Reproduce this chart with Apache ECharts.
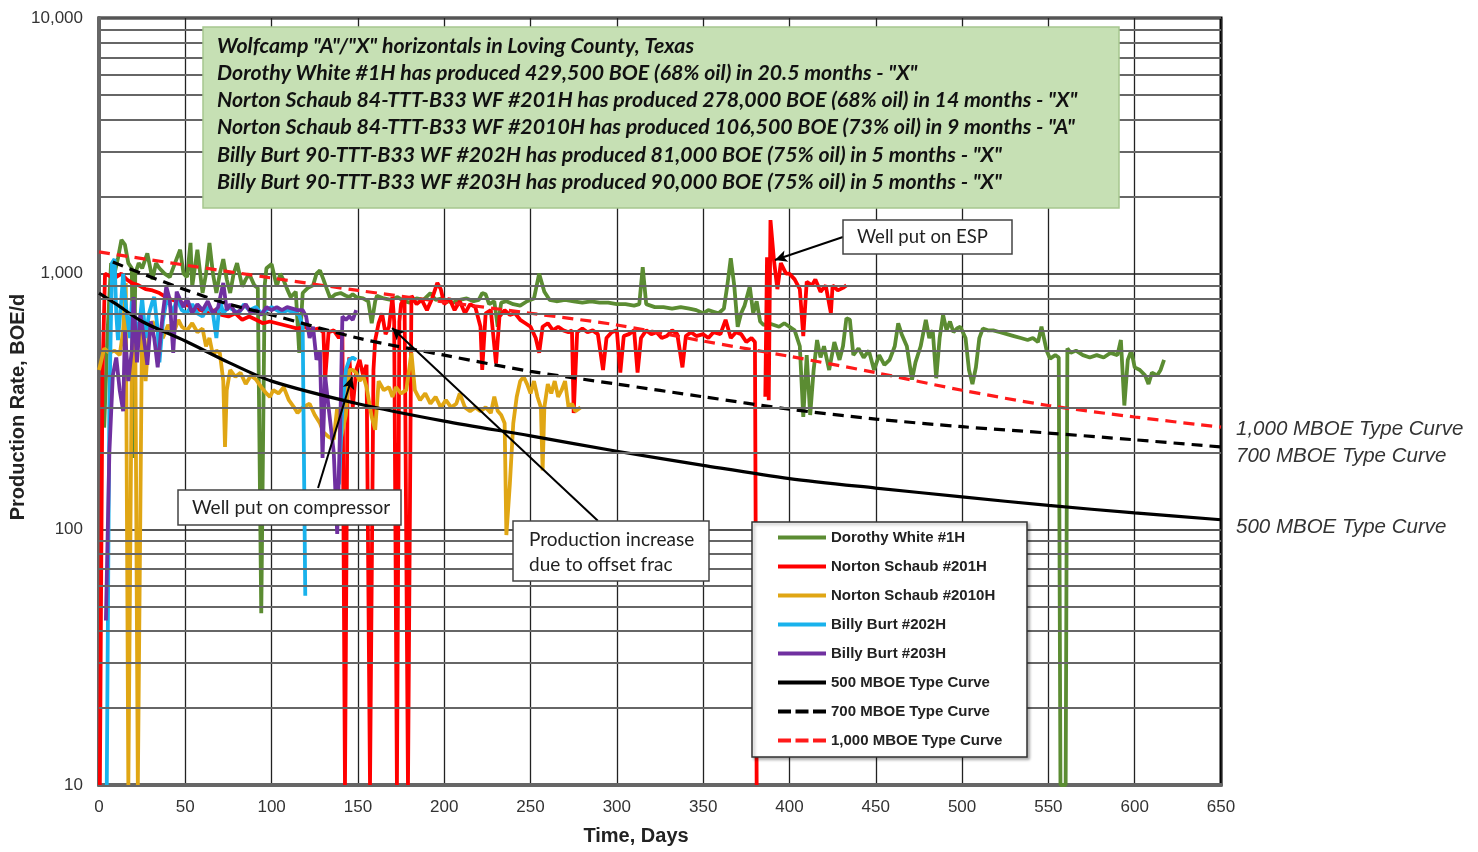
<!DOCTYPE html>
<html>
<head>
<meta charset="utf-8">
<script src="https://cdn.jsdelivr.net/npm/echarts@6/dist/echarts.min.js"></script>
<style>html,body{margin:0;padding:0;background:#fff}#c{width:1478px;height:852px}</style>
</head>
<body>
<div id="c"></div>
<script>
// ---------- DATA ----------
const xTicks = [0,50,100,150,200,250,300,350,400,450,500,550,600,650];
const yTicks = [10,100,1000,10000];
const minorGrid = [20,30,40,50,60,70,80,90,200,300,400,500,600,700,800,900,2000,3000,4000,5000,6000,7000,8000,9000];

const seriesNames = ["Dorothy White #1H","Norton Schaub #201H","Norton Schaub #2010H","Billy Burt #202H","Billy Burt #203H","500 MBOE Type Curve","700 MBOE Type Curve","1,000 MBOE Type Curve"];

const dorothy = [[3,250],[5,600],[7,1100],[9,1000],[11,1150],[13,1355],[15,1300],[17,1100],[19,1050],[20,190],[21,1000],[23,1100],[25,1050],[28,1200],[31,950],[33,1100],[35,1050],[38,1000],[41,970],[44,1100],[47,1240],[49,1000],[51,970],[53,1320],[54,890],[57,1240],[60,840],[62,1000],[64,1320],[66,1000],[68,840],[70,1000],[72,1140],[74,950],[76,840],[78,1000],[80,1100],[83,890],[85,950],[87,1000],[90,900],[92,880],[94,47],[96,900],[97,1050],[100,1090],[103,890],[105,1000],[107,940],[109,870],[111,810],[114,850],[116,490],[118,840],[121,880],[124,900],[126,1000],[128,1030],[130,950],[132,870],[134,800],[137,830],[140,840],[143,820],[145,810],[147,830],[149,810],[153,800],[156,780],[158,640],[160,780],[161,820],[165,800],[169,790],[173,810],[177,780],[180,770],[184,800],[188,790],[192,840],[195,790],[199,800],[202,780],[205,770],[209,790],[213,800],[217,780],[220,790],[222,840],[224,830],[226,760],[229,780],[231,620],[233,770],[236,780],[240,760],[244,750],[248,780],[252,800],[255,1000],[258,850],[261,790],[265,780],[270,790],[275,780],[280,770],[285,780],[290,770],[295,770],[300,760],[305,760],[310,750],[313,760],[315,1060],[317,760],[322,740],[327,740],[332,730],[337,740],[342,730],[346,720],[350,700],[353,720],[356,710],[359,700],[362,730],[364,900],[366,1150],[368,900],[370,620],[372,700],[374,750],[377,890],[379,700],[381,780],[383,650],[385,630],[388,640],[391,630],[394,620],[397,640],[400,620],[403,600],[406,520],[408,275],[410,480],[412,280],[414,420],[416,550],[418,470],[420,520],[423,420],[426,540],[429,460],[431,520],[433,670],[435,660],[437,480],[440,510],[443,470],[446,500],[449,420],[452,480],[455,440],[458,460],[461,520],[463,640],[465,580],[468,520],[471,385],[473,450],[476,520],[479,660],[481,560],[483,600],[485,390],[487,560],[489,690],[491,600],[493,650],[495,590],[497,610],[499,620],[502,560],[504,420],[506,370],[508,430],[510,560],[512,610],[515,600],[518,600],[522,590],[526,580],[530,570],[534,560],[538,550],[541,560],[544,540],[546,620],[549,500],[551,465],[554,480],[556,470],[557,10],[560,10],[561,510],[563,490],[566,500],[570,480],[574,470],[578,480],[582,470],[586,490],[590,480],[592,550],[594,305],[596,460],[598,500],[600,430],[603,420],[606,400],[608,370],[610,410],[613,400],[615,420],[617,460]];

const schaub201 = [[0.5,10],[2,400],[3.5,1000],[6,980],[9,960],[13,1000],[16,950],[19,920],[23,900],[27,870],[31,860],[35,840],[40,800],[45,780],[50,760],[55,730],[59,720],[63,700],[67,720],[71,690],[75,680],[79,700],[83,660],[87,680],[91,660],[95,640],[99,650],[103,640],[107,630],[111,620],[115,610],[119,620],[123,600],[127,610],[130,590],[131,385],[133,590],[136,600],[139,560],[141,590],[142.5,10],[144,380],[145,470],[147,300],[149,420],[151,460],[153,400],[155,440],[157,10],[159,420],[160,550],[162,640],[164,700],[166,580],[168,620],[170,810],[171,650],[172.6,10],[174,650],[175,760],[177,810],[179,10],[181,820],[184,760],[187,790],[190,720],[193,800],[196,920],[198,870],[200,760],[203,800],[206,720],[209,780],[212,700],[215,760],[218,740],[221,620],[222,420],[224,700],[227,720],[230,445],[232,680],[235,720],[238,690],[241,700],[244,660],[247,640],[250,620],[253,560],[255,490],[257,620],[260,640],[263,600],[266,620],[269,600],[272,590],[274,600],[275,285],[277,590],[280,610],[283,590],[286,600],[289,580],[292,420],[294,560],[297,590],[300,600],[302,410],[304,570],[307,580],[310,600],[312,410],[314,560],[317,600],[320,580],[323,590],[326,560],[329,570],[332,600],[335,580],[338,430],[340,570],[343,590],[346,570],[350,580],[353,560],[356,590],[360,580],[363,660],[366,560],[369,590],[372,580],[375,540],[378,560],[380,540],[381,10],[383,'-'],[386,330],[387,1160],[388,320],[389,1620],[391,1130],[393,870],[395,1100],[398,1000],[400,1000],[403,950],[406,870],[408,570],[410,930],[413,900],[415,950],[418,850],[421,900],[424,700],[425,900],[428,860],[431,880],[433,900]];

const schaub2010 = [[0,420],[3,510],[6,490],[9,500],[12,480],[14,600],[15.5,920],[17,10],[17.5,10],[19,450],[21,600],[22.5,10],[23.5,10],[25,700],[27,380],[29,600],[31,650],[34,600],[37,560],[40,630],[43,580],[46,660],[48,620],[51,600],[54,640],[57,590],[60,610],[62,520],[64,560],[66,480],[68,500],[70,490],[72,380],[73,210],[74,350],[76,420],[79,395],[82,410],[85,370],[88,400],[91,385],[94,360],[97,340],[99,330],[101,350],[104,340],[107,360],[110,320],[113,300],[115,285],[118,300],[122,310],[125,280],[128,260],[130,240],[133,230],[136,225],[138,300],[140,225],[143,280],[145,420],[147,420],[149,410],[151,380],[153,400],[155,360],[158,275],[160,245],[162,380],[165,350],[168,360],[170,330],[172,360],[175,340],[178,350],[181,490],[183,350],[186,320],[189,340],[192,310],[195,330],[198,300],[201,320],[204,300],[207,310],[209,340],[212,300],[215,290],[218,300],[221,290],[224,300],[227,285],[229,330],[231,290],[233,280],[235,260],[236,95],[238,150],[240,260],[242,330],[244,380],[246,395],[248,370],[250,340],[252,380],[254,330],[256,300],[257,170],[258,300],[260,370],[262,340],[264,380],[266,330],[268,350],[270,380],[272,300],[274,310],[276,290],[279,300]];

const burt202 = [[4.5,10],[6,300],[7.5,1100],[9,1140],[10,700],[11,550],[13,800],[14,1000],[16,700],[18,560],[19,780],[21,650],[23,600],[25,800],[27,560],[29,700],[31,780],[32,810],[34,600],[35,450],[37,650],[39,780],[41,760],[43,700],[45,800],[48,720],[51,700],[54,760],[57,700],[60,680],[63,740],[66,700],[68,560],[70,790],[72,700],[75,740],[78,720],[81,700],[84,760],[87,720],[91,740],[94,700],[97,720],[100,740],[103,720],[106,700],[109,720],[112,710],[114,700],[116,690],[118,620],[119.5,55],[130,'-'],[139,150],[141,300],[143,420],[145,460],[147,470],[149,460]];

const burt203 = [[4,44],[6,200],[8,400],[10,470],[12,350],[14,290],[15,600],[17,380],[19,500],[20,810],[22,450],[24,700],[26,560],[28,440],[30,650],[32,560],[34,430],[36,600],[37,700],[39,890],[41,790],[43,490],[45,850],[47,790],[49,740],[51,800],[54,700],[57,760],[60,720],[63,780],[66,700],[69,740],[72,920],[74,720],[76,760],[79,700],[82,720],[85,760],[88,700],[91,720],[94,690],[97,740],[100,720],[103,740],[106,720],[109,740],[112,730],[115,720],[118,720],[120,680],[122,560],[124,620],[126,460],[128,500],[129.5,190],[131,400],[133,300],[136,200],[138,96],[140,300],[141,680],[143,660],[145,680],[147,660],[149,720]];

const tc500 = [[0,840],[10,760],[25,650],[50,545],[75,450],[100,380],[150,310],[200,265],[250,232],[300,202],[350,178],[400,158],[450,145],[500,134],[550,124],[600,116],[650,109]];
const tc700 = [[8,1110],[25,1000],[50,865],[75,760],[100,690],[150,560],[200,480],[250,415],[300,370],[350,330],[400,295],[450,270],[500,252],[550,238],[600,224],[650,210]];
const tc1000 = [[0,1216],[50,1080],[100,962],[150,860],[200,775],[250,700],[300,630],[350,545],[400,475],[450,410],[500,350],[550,305],[600,275],[650,251]];

const headerLines = [
 'Wolfcamp "A"/"X" horizontals in Loving County, Texas',
 'Dorothy White #1H has produced 429,500 BOE (68% oil) in 20.5 months - "X"',
 'Norton Schaub 84-TTT-B33 WF #201H has produced 278,000 BOE (68% oil) in 14 months - "X"',
 'Norton Schaub 84-TTT-B33 WF #2010H has produced 106,500 BOE (73% oil) in 9 months - "A"',
 'Billy Burt 90-TTT-B33 WF #202H has produced 81,000 BOE (75% oil) in 5 months - "X"',
 'Billy Burt 90-TTT-B33 WF #203H has produced 90,000 BOE (75% oil) in 5 months - "X"'
];
// arrows: [fromDay, fromRate, toDay, toRate]
const arrows = [[431,1391,391.6,1131],[126.9,145,146.6,394],[289,108,169.8,613]];

// ---------- CHART ----------
const colors = ['#5b8c32','#ff0000','#e0a614','#19b2ec','#7030a0','#000000','#000000','#ff1a1a'];
const chart = echarts.init(document.getElementById('c'), null, {renderer:'canvas'});
const fmt = v => String(v).replace(/\B(?=(\d{3})+(?!\d))/g, ',');
const dataSets = [dorothy, schaub201, schaub2010, burt202, burt203, tc500, tc700, tc1000];
const labelOffsets = {5:[0,8],6:[0,9],7:[0,2]};
const solidIcon = 'path://M0,0h48v4h-48z';
const dashIcon = 'path://M0,0h13v4h-13z M17.5,0h13v4h-13z M35,0h13v4h-13z';

const series = dataSets.map((d,i) => {
  const tc = i >= 5;
  const s = {
    name: seriesNames[i], type:'line', data: d, symbol:'none', showSymbol:false,
    smooth: tc ? 0.3 : false, connectNulls:false, animation:false, z: tc ? 4 : 3,
    lineStyle:{color:colors[i], width: tc ? 3.2 : 3.8, type: (i===6||i===7) ? [11,7] : 'solid'},
    itemStyle:{color:colors[i]}
  };
  if (tc) {
    s.endLabel = {show:true, formatter:'{a}', distance:15, offset:labelOffsets[i],
      fontFamily:'Liberation Sans', fontStyle:'italic', fontSize:20.5, color:'#333'};
  }
  return s;
});
// minor gridlines + arrows
series.unshift({
  type:'line', data:[], silent:true, z:1, animation:false,
  markLine:{silent:true, symbol:['none','none'], animation:false, label:{show:false},
    lineStyle:{color:'#666', width:1.8, type:'solid'},
    data: minorGrid.map(v => ({yAxis:v}))}
});
series.push({
  type:'line', data:[], silent:true, z:6, animation:false,
  markLine:{silent:true, symbol:['none','arrow'], symbolSize:[9,12], animation:false, label:{show:false},
    lineStyle:{color:'#000', width:2, type:'solid'},
    data: arrows.map(a => [{coord:[a[0],a[1]]},{coord:[a[2],a[3]]}])}
});

const hdrTexts = headerLines.map((t,k) => ({
  type:'text', x:217, y:46 + k*27.2, z:101,
  style:{text:t, font:'italic bold 21.3px Lato', fill:'#111', textVerticalAlign:'middle'}
}));

const option = {
  animation:false,
  grid:{left:99, right:257, top:18, bottom:67, show:true, borderColor:'#000', borderWidth:3, backgroundColor:'#fff'},
  xAxis:{type:'value', min:0, max:650, interval:50,
    axisLine:{show:true, onZero:false, lineStyle:{color:'#666', width:4}},
    axisTick:{show:false},
    axisLabel:{fontFamily:'Liberation Sans', fontSize:17, color:'#333', margin:14},
    splitLine:{show:true, lineStyle:{color:'#222', width:1.3}}},
  yAxis:{type:'log', logBase:10, min:10, max:10000,
    axisLine:{show:true, lineStyle:{color:'#666', width:4}},
    axisTick:{show:false},
    axisLabel:{fontFamily:'Liberation Sans', fontSize:17, color:'#333', margin:16, formatter: v => fmt(v)},
    splitLine:{show:true, lineStyle:{color:'#555', width:2}},
    minorTick:{show:false}, minorSplitLine:{show:false}},
  legend:{show:true, data: seriesNames.map((n,i) => ({name:n, icon: (i===6||i===7) ? dashIcon : solidIcon})),
    orient:'vertical', left:778, top:530, z:110,
    itemWidth:48, itemHeight:4, itemGap:14, padding:0,
    textStyle:{fontFamily:'Liberation Sans', fontWeight:'bold', fontSize:15, color:'#222', padding:[0,0,0,0]},
    selectedMode:false},
  series: series,
  graphic:[
    {type:'rect', z:100, shape:{x:203, y:27, width:916, height:181}, style:{fill:'#c6e0b4', stroke:'#a6c68e', lineWidth:1.5}},
    ...hdrTexts,
    {type:'rect', z:100, shape:{x:843, y:220, width:169, height:34}, style:{fill:'#fff', stroke:'#444', lineWidth:1.5}},
    {type:'text', z:101, x:857, y:237, style:{text:'Well put on ESP', font:'18.5px Lato', fill:'#222', textVerticalAlign:'middle'}},
    {type:'rect', z:100, shape:{x:178, y:490, width:223, height:35}, style:{fill:'#fff', stroke:'#444', lineWidth:1.5}},
    {type:'text', z:101, x:192, y:508, style:{text:'Well put on compressor', font:'19px Lato', fill:'#222', textVerticalAlign:'middle'}},
    {type:'rect', z:100, shape:{x:513, y:521, width:196, height:60}, style:{fill:'#fff', stroke:'#444', lineWidth:1.5}},
    {type:'text', z:101, x:529, y:540, style:{text:'Production increase', font:'19px Lato', fill:'#222', textVerticalAlign:'middle'}},
    {type:'text', z:101, x:529, y:565, style:{text:'due to offset frac', font:'19px Lato', fill:'#222', textVerticalAlign:'middle'}},
    {type:'rect', z:100, shape:{x:752, y:522, width:275, height:235}, style:{fill:'#fff', stroke:'#333', lineWidth:1.5, shadowBlur:3, shadowColor:'rgba(0,0,0,0.3)', shadowOffsetX:2, shadowOffsetY:2}},
    {type:'text', z:101, x:636, y:836, style:{text:'Time, Days', font:'bold 20px "Liberation Sans"', fill:'#222', textAlign:'center', textVerticalAlign:'middle'}},
    {type:'text', z:101, x:18, y:407, rotation:Math.PI/2, style:{text:'Production Rate, BOE/d', font:'bold 20px "Liberation Sans"', fill:'#222', textAlign:'center', textVerticalAlign:'middle'}}
  ]
};
chart.setOption(option);
</script>
</body>
</html>
